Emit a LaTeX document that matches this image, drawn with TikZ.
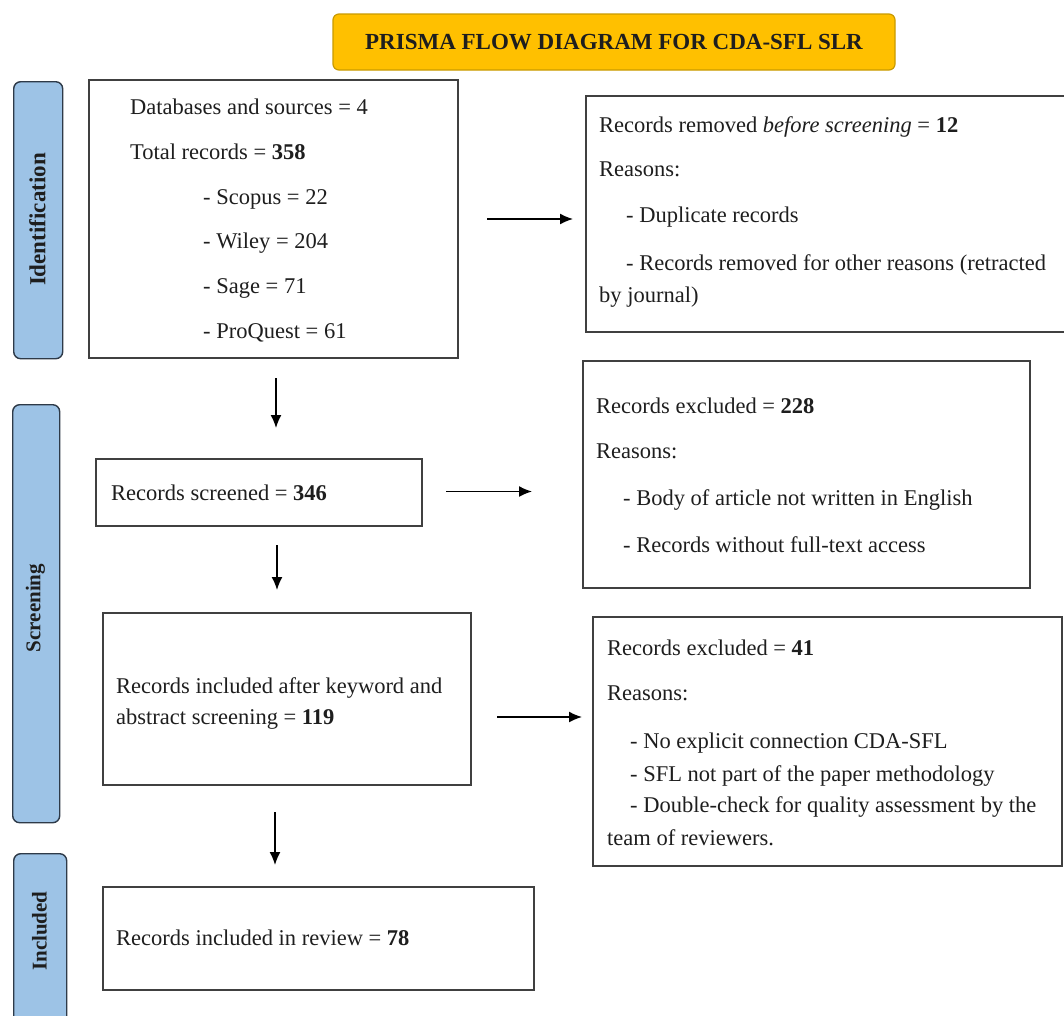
\documentclass[tikz,border=0pt]{standalone}
\usepackage{fontspec}
\setmainfont{Liberation Serif}
\usetikzlibrary{arrows.meta,calc}
\definecolor{gold}{HTML}{FFC000}
\definecolor{goldb}{HTML}{C99A00}
\definecolor{barblue}{HTML}{9DC3E6}
\definecolor{bard}{HTML}{2E3A48}
\definecolor{boxd}{HTML}{404040}
\definecolor{ink}{HTML}{1E1E1E}
\begin{document}
\begin{tikzpicture}[x=1pt,y=-1pt,
  box/.style={draw=boxd, line width=1.6pt, fill=white, anchor=north west, inner sep=0pt, outer sep=0pt},
  bar/.style={draw=bard, fill=barblue, line width=1.4pt, rounded corners=7pt, anchor=north west, inner sep=0pt},
  barlabel/.style={rotate=90, font=\fontsize{21}{24}\selectfont\bfseries, text=ink, inner sep=0pt},
  titlebox/.style={draw=goldb, fill=gold, line width=1.2pt, rounded corners=6pt, minimum width=562pt, minimum height=56pt, font=\fontsize{23}{26}\selectfont\bfseries, text=ink},
  txt/.style={anchor=base west, inner sep=0pt, font=\fontsize{22.5}{30}\selectfont, text=ink},
  arr/.style={line width=1.5pt, -{Latex[length=13pt,width=11pt]}, draw=black}
]
\useasboundingbox (0,0) rectangle (1064,1015);
\clip (0,0) rectangle (1064,1015);
\fill[white] (0,0) rectangle (1064,1015);

% title
\node[titlebox] (title) at (614,42) {PRISMA FLOW DIAGRAM FOR CDA-SFL SLR};

% phase bars
\node[bar, minimum width=49pt, minimum height=277pt] (barI) at (13,81) {};
\node[barlabel, font=\fontsize{23}{26}\selectfont\bfseries] (labI) at (37.5,219.5) {Identification};
\node[bar, minimum width=47pt, minimum height=418pt] (barS) at (12,404) {};
\node[barlabel] (labS) at (35.5,608) {Screening};
\node[bar, minimum width=53pt, minimum height=180pt] (barC) at (13,853) {};
\node[barlabel] (labC) at (39.5,931) {Included};

% boxes
\node[box, minimum width=369pt, minimum height=278pt] (box1) at (89,80) {};
\node[box, minimum width=500pt, minimum height=236pt] (rbox1) at (586,96) {};
\node[box, minimum width=326pt, minimum height=67pt] (scr) at (96,459) {};
\node[box, minimum width=447pt, minimum height=227pt] (rbox2) at (583,361) {};
\node[box, minimum width=368pt, minimum height=172pt] (box3) at (103,613) {};
\node[box, minimum width=469pt, minimum height=249pt] (rbox3) at (593,617) {};
\node[box, minimum width=431pt, minimum height=103pt] (box4) at (103,887) {};

% box1 text
\node[txt] (t11) at (130,114) {Databases and sources = 4};
\node[txt] (t12) at (130,159) {Total records = \textbf{358}};
\node[txt] (t13) at (203,204) {- Scopus = 22};
\node[txt] (t14) at (203,248) {- Wiley = 204};
\node[txt] (t15) at (203,293) {- Sage = 71};
\node[txt] (t16) at (203,338) {- ProQuest = 61};

% rbox1 text
\node[txt] (t21) at (599,132) {Records removed \textit{before screening} = \textbf{12}};
\node[txt] (t22) at (599,176) {Reasons:};
\node[txt] (t23) at (626,222) {- Duplicate records};
\node[txt] (t24) at (626,270) {- Records removed for other reasons (retracted};
\node[txt] (t25) at (599,302) {by journal)};

% screened
\node[txt] (t31) at (111,500) {Records screened = \textbf{346}};

% rbox2 text
\node[txt] (t41) at (596,413) {Records excluded = \textbf{228}};
\node[txt] (t42) at (596,458) {Reasons:};
\node[txt] (t43) at (623,505) {- Body of article not written in English};
\node[txt] (t44) at (623,552) {- Records without full-text access};

% box3 text
\node[txt] (t51) at (116,693) {Records included after keyword and};
\node[txt] (t52) at (116,724) {abstract screening = \textbf{119}};

% rbox3 text
\node[txt] (t61) at (607,655) {Records excluded = \textbf{41}};
\node[txt] (t62) at (607,700) {Reasons:};
\node[txt] (t63) at (630,748) {- No explicit connection CDA-SFL};
\node[txt] (t64) at (630,781) {- SFL not part of the paper methodology};
\node[txt] (t65) at (630,812) {- Double-check for quality assessment by the};
\node[txt] (t66) at (607,845) {team of reviewers.};

% box4 text
\node[txt] (t71) at (116,945) {Records included in review = \textbf{78}};

% arrows
\draw[arr] ($(box1.east)+(29,0)$) -- ($(box1.east -| rbox1.west)+(-13,0)$);
\draw[arr] ($(scr.east)+(24,-1)$) -- ($(scr.east -| rbox2.west)+(-51,-1)$);
\draw[arr] ($(box3.east)+(26,18)$) -- ($(box3.east -| rbox3.west)+(-11,18)$);
\draw[arr] ($(box1.south)+(2.5,20)$) -- ($(box1.south |- scr.north)+(2.5,-31)$);
\draw[arr] ($(box1.south |- scr.south)+(3.5,19)$) -- ($(box1.south |- box3.north)+(3.5,-23)$);
\draw[arr] ($(box1.south |- box3.south)+(1.5,27)$) -- ($(box1.south |- box4.north)+(1.5,-22)$);
\end{tikzpicture}
\end{document}
